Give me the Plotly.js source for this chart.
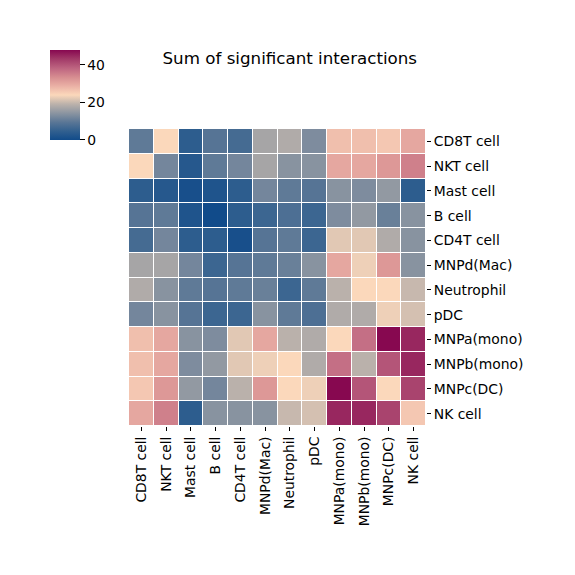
<!DOCTYPE html>
<html>
<head>
<meta charset="utf-8">
<script src="https://cdn.plot.ly/plotly-3.0.1.min.js"></script>
<style>html,body{margin:0;padding:0;background:#fff;}#chart{width:575px;height:575px;}</style>
</head>
<body>
<div id="chart"></div>
<script>
const cellTypes = ["CD8T cell","NKT cell","Mast cell","B cell","CD4T cell","MNPd(Mac)","Neutrophil","pDC","MNPa(mono)","MNPb(mono)","MNPc(DC)","NK cell"];

const rowCD8T      = [10,24, 4, 9, 7,17,18,13,27,27,26,30];
const rowNKT       = [24,12, 3,10,12,17,14,14,30,30,32,35];
const rowMast      = [ 4, 3, 1, 2, 4,12,10, 9,14,13,15, 4];
const rowB         = [ 9,10, 2, 0, 4, 6, 8, 6,13,15,11,14];
const rowCD4T      = [ 7,12, 4, 4, 1, 9,10, 6,22,22,18,14];
const rowMNPd      = [17,17,12, 6, 9,10,11,14,30,23,32,14];
const rowNeutro    = [18,14,10, 9,10,11, 6,10,19,24,24,20];
const rowPDC       = [12,14, 9, 6, 6,14,10, 8,18,18,23,21];
const rowMNPa      = [27,30,14,13,22,30,19,18,24,37,48,45];
const rowMNPb      = [27,30,13,15,22,23,24,18,37,19,40,45];
const rowMNPc      = [26,32,15,12,19,32,24,23,48,40,24,42];
const rowNK        = [30,35, 4,14,14,14,20,21,45,45,42,26];

const zValues = [rowCD8T,rowNKT,rowMast,rowB,rowCD4T,rowMNPd,rowNeutro,rowPDC,rowMNPa,rowMNPb,rowMNPc,rowNK];

const colorscale = [
  [0.0,"#114b8a"],
  [0.1,"#32608f"],
  [0.2,"#5b7796"],
  [0.3,"#8c95a1"],
  [0.4,"#bcb2ab"],
  [0.5,"#fbd8bb"],
  [0.6,"#eab0a5"],
  [0.7,"#d68c90"],
  [0.8,"#bd6380"],
  [0.9,"#a23a68"],
  [1.0,"#870850"]
];

const font = {family:"DejaVu Sans, sans-serif", size:13.9, color:"#000"};

const trace = {
  type:"heatmap",
  z: zValues,
  x: cellTypes,
  y: cellTypes,
  zmin:0, zmax:48,
  colorscale: colorscale,
  xgap:1, ygap:1,
  colorbar:{
    x:-0.266, xanchor:"left", xref:"paper",
    y:1.266, yanchor:"top", yref:"paper",
    len:0.303, lenmode:"fraction",
    thickness:30, thicknessmode:"pixels",
    outlinewidth:0,
    tickvals:[0,20,40], ticks:"outside", ticklen:5, tickcolor:"#000",
    tickfont:font, xpad:0, ypad:0
  },
  hoverinfo:"x+y+z"
};

const layout = {
  width:575, height:575,
  margin:{l:129, r:149, t:129, b:149},
  paper_bgcolor:"#fff", plot_bgcolor:"#fff",
  font: font,
  title:{text:"Sum of significant interactions", font:{family:"DejaVu Sans, sans-serif", size:16.7, color:"#000"},
         xref:"container", x:0.504, xanchor:"center", yref:"container", y:0.899, yanchor:"middle"},
  xaxis:{type:"category", tickangle:-90, ticks:"outside", ticklen:4, tickcolor:"#000", showgrid:false, zeroline:false, showline:false, tickfont:font},
  yaxis:{type:"category", autorange:"reversed", side:"right", ticks:"outside", ticklen:4, tickcolor:"#000", showgrid:false, zeroline:false, showline:false, tickfont:font}
};

Plotly.newPlot("chart",[trace],layout,{displayModeBar:false, staticPlot:true});
</script>
</body>
</html>
